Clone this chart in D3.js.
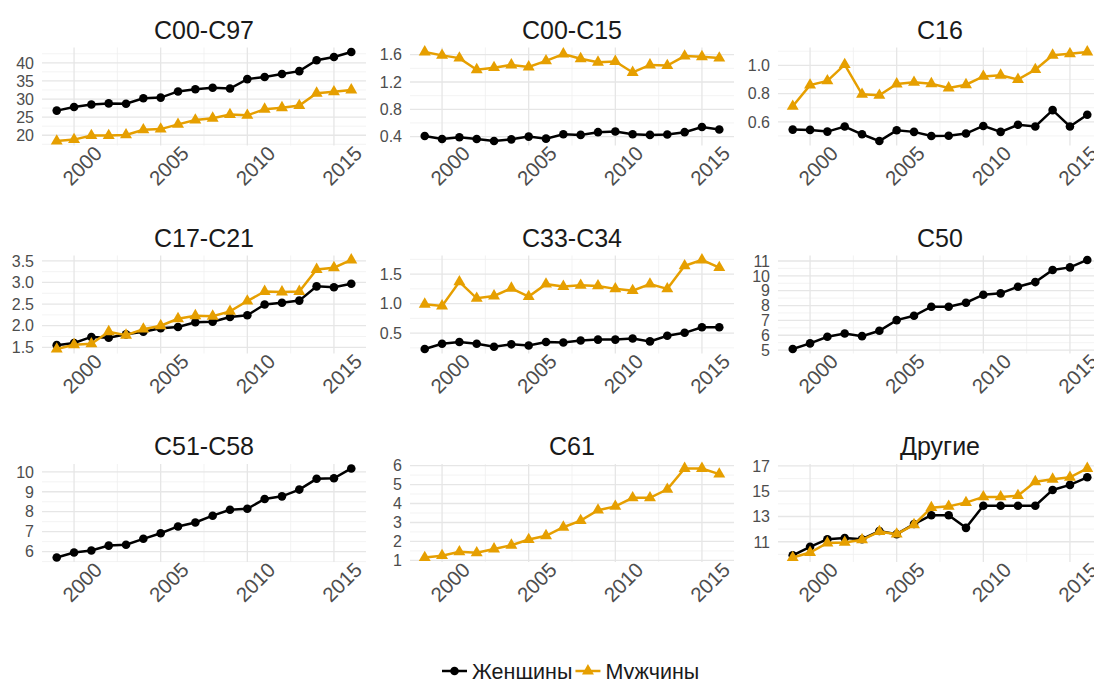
<!DOCTYPE html>
<html>
<head>
<meta charset="utf-8">
<script src="https://cdn.jsdelivr.net/npm/d3@7"></script>
<style>
  body { margin: 0; background: #fff; }
  text { font-family: "Liberation Sans", Arial, sans-serif; }
</style>
</head>
<body>
<svg></svg>
<script>
// years on the x axis
var years = [1999, 2000, 2001, 2002, 2003, 2004, 2005, 2006, 2007, 2008,
             2009, 2010, 2011, 2012, 2013, 2014, 2015, 2016];
var xTicks = [2000, 2005, 2010, 2015];

var panelNames = ["C00-C97", "C00-C15", "C16", "C17-C21", "C33-C34", "C50", "C51-C58", "C61", "Другие"];

// women (black, circles)
var womenC00C97 = [26.8, 27.8, 28.5, 28.8, 28.7, 30.2, 30.4, 32.1, 32.7, 33.1, 32.9, 35.5, 36.1, 36.9, 37.7, 40.7, 41.6, 43.0];
var womenC00C15 = [0.41, 0.365, 0.39, 0.365, 0.335, 0.36, 0.40, 0.37, 0.435, 0.425, 0.465, 0.475, 0.435, 0.425, 0.43, 0.465, 0.54, 0.505];
var womenC16    = [0.545, 0.543, 0.531, 0.567, 0.512, 0.464, 0.54, 0.529, 0.50, 0.502, 0.517, 0.571, 0.529, 0.579, 0.567, 0.683, 0.567, 0.65];
var womenC17C21 = [1.55, 1.60, 1.74, 1.72, 1.80, 1.86, 1.94, 1.97, 2.08, 2.09, 2.20, 2.24, 2.49, 2.53, 2.58, 2.91, 2.89, 2.97];
var womenC33C34 = [0.23, 0.32, 0.35, 0.32, 0.27, 0.31, 0.29, 0.35, 0.34, 0.375, 0.39, 0.39, 0.41, 0.36, 0.455, 0.505, 0.60, 0.60];
var womenC50    = [5.07, 5.45, 5.9, 6.12, 5.94, 6.30, 7.02, 7.31, 7.92, 7.92, 8.19, 8.73, 8.82, 9.27, 9.58, 10.39, 10.57, 11.07];
var womenC51C58 = [5.70, 5.95, 6.05, 6.30, 6.34, 6.64, 6.92, 7.26, 7.46, 7.80, 8.10, 8.15, 8.64, 8.77, 9.11, 9.65, 9.68, 10.17];
var womenOther  = [9.93, 10.6, 11.2, 11.3, 11.2, 11.85, 11.6, 12.4, 13.1, 13.1, 12.1, 13.85, 13.85, 13.85, 13.85, 15.1, 15.5, 16.1];

// men (orange, triangles)
var menC00C97 = [18.4, 18.8, 19.9, 19.9, 20.1, 21.5, 21.7, 23.0, 24.2, 24.7, 25.7, 25.5, 27.2, 27.6, 28.2, 31.6, 32.0, 32.5];
var menC00C15 = [1.64, 1.59, 1.55, 1.38, 1.41, 1.45, 1.42, 1.51, 1.61, 1.54, 1.49, 1.50, 1.34, 1.45, 1.44, 1.58, 1.57, 1.55];
var menC16    = [0.71, 0.86, 0.89, 1.005, 0.795, 0.788, 0.868, 0.88, 0.87, 0.84, 0.863, 0.922, 0.93, 0.9, 0.97, 1.072, 1.082, 1.095];
var menC17C21 = [1.46, 1.56, 1.58, 1.86, 1.78, 1.92, 2.00, 2.16, 2.23, 2.22, 2.33, 2.57, 2.79, 2.78, 2.79, 3.30, 3.34, 3.52];
var menC33C34 = [0.99, 0.96, 1.37, 1.09, 1.13, 1.26, 1.12, 1.33, 1.29, 1.31, 1.30, 1.25, 1.22, 1.33, 1.25, 1.64, 1.74, 1.61];
var menC61    = [1.15, 1.25, 1.45, 1.40, 1.60, 1.80, 2.10, 2.30, 2.75, 3.10, 3.65, 3.85, 4.30, 4.30, 4.75, 5.85, 5.85, 5.55];
var menOther  = [9.75, 10.15, 10.9, 10.95, 11.15, 11.8, 11.6, 12.35, 13.7, 13.8, 14.1, 14.55, 14.55, 14.65, 15.75, 15.95, 16.1, 16.8];

// y tick values per panel
var yTicks = [
  [20, 25, 30, 35, 40],
  [0.4, 0.8, 1.2, 1.6],
  [0.6, 0.8, 1.0],
  [1.5, 2.0, 2.5, 3.0, 3.5],
  [0.5, 1.0, 1.5],
  [5, 6, 7, 8, 9, 10, 11],
  [6, 7, 8, 9, 10],
  [1, 2, 3, 4, 5, 6],
  [11, 13, 15, 17]
];
var yFormats = [".0f", ".1f", ".1f", ".1f", ".1f", ".0f", ".0f", ".0f", ".0f"];

var womenSeries = [womenC00C97, womenC00C15, womenC16, womenC17C21, womenC33C34, womenC50, womenC51C58, null, womenOther];
var menSeries   = [menC00C97, menC00C15, menC16, menC17C21, menC33C34, null, null, menC61, menOther];

var colWomen = "#000000", colMen = "#E69F00";

var svgWidth = 1094, svgHeight = 679;
var svg = d3.select("svg").attr("width", svgWidth).attr("height", svgHeight);

var colLeft = [42, 410, 778];
var rowTop = [47.5, 255.5, 464];
var pw = 324, ph = 98;

var x = d3.scaleLinear()
  .domain([years[0] - 0.85, years[years.length - 1] + 0.85])
  .range([0, pw]);
var xMinor = [2002.5, 2007.5, 2012.5];

var tri = d3.symbol().type(d3.symbolTriangle).size(62);

panelNames.forEach(function(name, i) {
  var col = i % 3, row = Math.floor(i / 3);
  var g = svg.append("g").attr("transform", "translate(" + colLeft[col] + "," + rowTop[row] + ")");

  var w = womenSeries[i], m = menSeries[i];
  var all = [].concat(w || [], m || []);
  var ext = d3.extent(all);
  var pad = (ext[1] - ext[0]) * 0.05;
  var y = d3.scaleLinear().domain([ext[0] - pad, ext[1] + pad]).range([ph, 0]);

  var ticks = yTicks[i];
  var step = ticks[1] - ticks[0];
  var yMinor = [];
  for (var k = -1; k < ticks.length; k++) {
    var v = ticks[0] + step * (k + 0.5);
    if (v >= y.domain()[0] && v <= y.domain()[1]) yMinor.push(v);
  }

  // minor grid
  g.append("g").selectAll("line").data(yMinor).enter().append("line")
    .attr("x1", 0).attr("x2", pw)
    .attr("y1", function(d) { return y(d); }).attr("y2", function(d) { return y(d); })
    .attr("stroke", "#f0f0f0").attr("stroke-width", 0.8);
  g.append("g").selectAll("line").data(xMinor).enter().append("line")
    .attr("y1", 0).attr("y2", ph)
    .attr("x1", function(d) { return x(d); }).attr("x2", function(d) { return x(d); })
    .attr("stroke", "#f0f0f0").attr("stroke-width", 0.8);

  // major grid
  g.append("g").selectAll("line").data(ticks).enter().append("line")
    .attr("x1", 0).attr("x2", pw)
    .attr("y1", function(d) { return y(d); }).attr("y2", function(d) { return y(d); })
    .attr("stroke", "#e6e6e6").attr("stroke-width", 1.3);
  g.append("g").selectAll("line").data(xTicks).enter().append("line")
    .attr("y1", 0).attr("y2", ph)
    .attr("x1", function(d) { return x(d); }).attr("x2", function(d) { return x(d); })
    .attr("stroke", "#e6e6e6").attr("stroke-width", 1.3);

  // y axis labels
  var fmt = d3.format(yFormats[i]);
  g.append("g").selectAll("text").data(ticks).enter().append("text")
    .attr("x", -8).attr("y", function(d) { return y(d); })
    .attr("dy", "0.36em")
    .attr("text-anchor", "end")
    .attr("fill", "#4d4d4d")
    .style("font-size", "16px")
    .text(function(d) { return fmt(d); });

  // x axis labels, rotated
  g.append("g").selectAll("text").data(xTicks).enter().append("text")
    .attr("transform", function(d) { return "translate(" + (x(d) + 8) + "," + (ph + 20) + ") rotate(-45)"; })
    .attr("dy", "0.36em")
    .attr("text-anchor", "middle")
    .attr("fill", "#4d4d4d")
    .style("font-size", "20.5px")
    .text(function(d) { return d; });

  // title
  g.append("text")
    .attr("x", pw / 2).attr("y", -9)
    .attr("text-anchor", "middle")
    .attr("fill", "#1a1a1a")
    .style("font-size", "25px")
    .text(name);

  var line = d3.line()
    .x(function(d, j) { return x(years[j]); })
    .y(function(d) { return y(d); });

  if (w) {
    g.append("path").datum(w).attr("d", line)
      .attr("fill", "none").attr("stroke", colWomen).attr("stroke-width", 2.5);
    g.append("g").selectAll("circle").data(w).enter().append("circle")
      .attr("cx", function(d, j) { return x(years[j]); })
      .attr("cy", function(d) { return y(d); })
      .attr("r", 4.3).attr("fill", colWomen);
  }
  if (m) {
    g.append("path").datum(m).attr("d", line)
      .attr("fill", "none").attr("stroke", colMen).attr("stroke-width", 2.5);
    g.append("g").selectAll("path.tri").data(m).enter().append("path")
      .attr("class", "tri")
      .attr("d", tri)
      .attr("transform", function(d, j) { return "translate(" + x(years[j]) + "," + y(d) + ")"; })
      .attr("fill", colMen);
  }
});

// legend
var legend = svg.append("g");
var legendItems = [
  { label: "Женщины", color: colWomen, shape: "circle" },
  { label: "Мужчины", color: colMen, shape: "triangle" }
];
var lx = 442, ly = 671;
legendItems.forEach(function(it) {
  legend.append("line")
    .attr("x1", lx).attr("x2", lx + 25).attr("y1", ly).attr("y2", ly)
    .attr("stroke", it.color).attr("stroke-width", 2.5);
  if (it.shape === "circle") {
    legend.append("circle").attr("cx", lx + 12.5).attr("cy", ly).attr("r", 4.3).attr("fill", it.color);
  } else {
    legend.append("path").attr("d", tri).attr("transform", "translate(" + (lx + 12.5) + "," + ly + ")").attr("fill", it.color);
  }
  var t = legend.append("text")
    .attr("x", lx + 30).attr("y", ly).attr("dy", "0.36em")
    .attr("fill", "#1a1a1a")
    .style("font-size", "21.5px")
    .text(it.label);
  lx = lx + 30 + t.node().getComputedTextLength() + 3;
});
</script>
</body>
</html>
